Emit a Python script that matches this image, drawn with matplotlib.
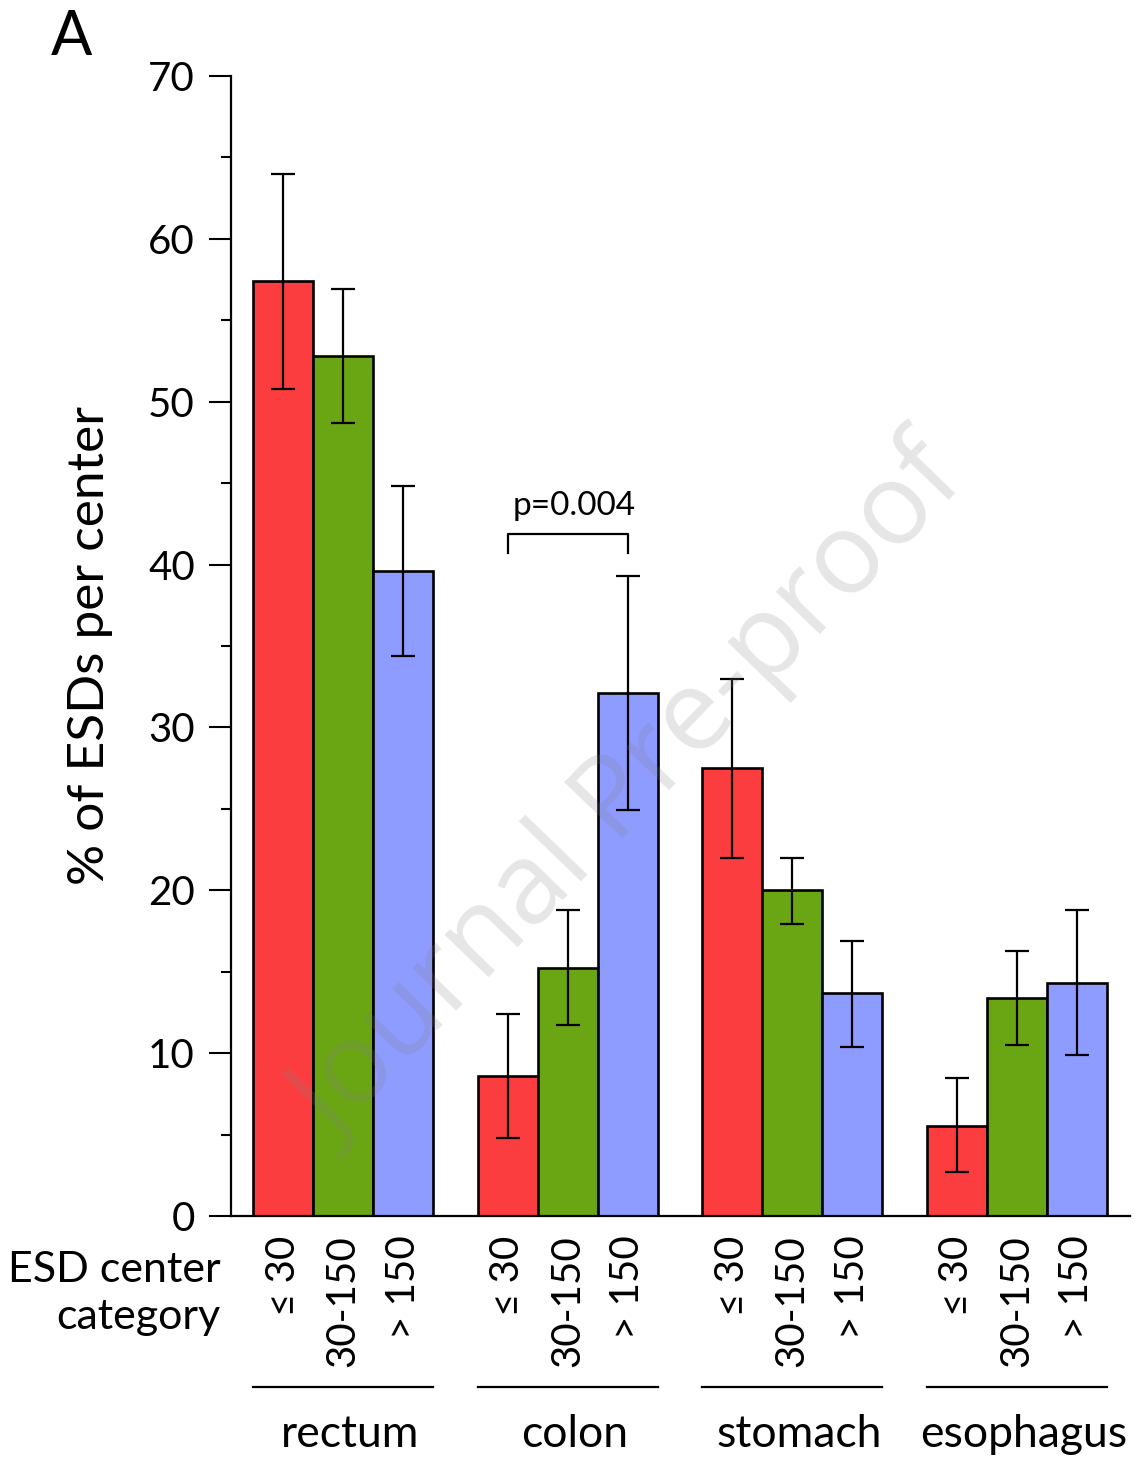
import matplotlib
matplotlib.use("Agg")
import matplotlib.pyplot as plt
import matplotlib.transforms as mtransforms
import numpy as np

plt.rcParams['font.family'] = ['Lato', 'DejaVu Sans']

# data: % of ESDs per center, by organ and center category
organs = ["rectum", "colon", "stomach", "esophagus"]
categories = ["\u2264 30", "30-150", "> 150"]
means = {
    "\u2264 30": [57.4, 8.6, 27.5, 5.5],
    "30-150": [52.8, 15.2, 20.0, 13.4],
    "> 150": [39.6, 32.1, 13.7, 14.3],
}
err_low = {
    "\u2264 30": [50.8, 4.8, 22.0, 2.7],
    "30-150": [48.7, 11.7, 17.9, 10.5],
    "> 150": [34.4, 24.9, 10.4, 9.9],
}
err_high = {
    "\u2264 30": [64.0, 12.4, 33.0, 8.5],
    "30-150": [56.9, 18.8, 22.0, 16.3],
    "> 150": [44.8, 39.3, 16.9, 18.8],
}
colors = ["#fc3d3f", "#6aa614", "#8f9cff"]

fig = plt.figure(figsize=(11.36, 14.6), dpi=100)
ax = fig.add_axes([0.2033, 0.1671, 0.7914, 0.7809])

width = 0.267
x = np.arange(len(organs))
offsets = [-width, 0, width]

for k, cat in enumerate(categories):
    m = np.array(means[cat])
    lo = m - np.array(err_low[cat])
    hi = np.array(err_high[cat]) - m
    xs = x + offsets[k]
    ax.bar(xs, m, width, color=colors[k], edgecolor="black", linewidth=1.9, zorder=2)
    ax.errorbar(xs, m, yerr=[lo, hi], fmt="none", ecolor="black",
                elinewidth=1.6, capsize=8.5, capthick=1.6, zorder=3)

ax.set_xlim(-0.5, 3.505)
ax.set_ylim(0, 70)
ax.set_yticks(np.arange(0, 71, 10))
ax.set_yticks(np.arange(5, 70, 10), minor=True)
ax.tick_params(axis="y", which="major", length=16, width=1.5, labelsize=29, pad=10)
ax.tick_params(axis="y", which="minor", length=7, width=1.5)
ax.spines["top"].set_visible(False)
ax.spines["right"].set_visible(False)
ax.spines["left"].set_linewidth(1.6)
ax.spines["bottom"].set_linewidth(1.6)

# category labels under each bar
xt = np.concatenate([x + o for o in offsets])
xl = [c for c in categories for _ in organs]
ax.set_xticks(xt)
ax.set_xticklabels(xl, rotation=90, fontsize=29, va="top")
ax.tick_params(axis="x", length=0, pad=14)

# group underlines and organ names
trans = mtransforms.blended_transform_factory(ax.transData, ax.transAxes)
for i, organ in enumerate(organs):
    ax.plot([i - 1.5 * width, i + 1.5 * width], [-0.15, -0.15], color="black",
            lw=1.6, transform=trans, clip_on=False)
    ax.text(i + 0.03, -0.192, organ, transform=trans, ha="center", va="center",
            fontsize=32)

# significance bracket for colon
y_br, y_leg = 41.9, 40.7
ax.plot([1 - width, 1 - width, 1 + width, 1 + width], [y_leg, y_br, y_br, y_leg],
        color="black", lw=1.6, zorder=3)
ax.text(1.03, y_br + 0.8, "p=0.004", ha="center", va="bottom", fontsize=24)

fig.text(0.079, 0.558, "% of ESDs per center", rotation=90, ha="center", va="center",
         fontsize=37)
fig.text(0.194, 0.114, "ESD center\ncategory", ha="right", va="center", fontsize=31,
         linespacing=1.3)
fig.text(0.063, 0.974, "A", ha="center", va="center", fontsize=44)

# watermark
ax.text(0.445, 0.369, "Journal Pre-proof", transform=ax.transAxes, rotation=46,
        ha="center", va="center", fontsize=82, color="gray", alpha=0.2,
        family=["Open Sans", "DejaVu Sans"], zorder=5)

fig.savefig("out.png", dpi=100)
